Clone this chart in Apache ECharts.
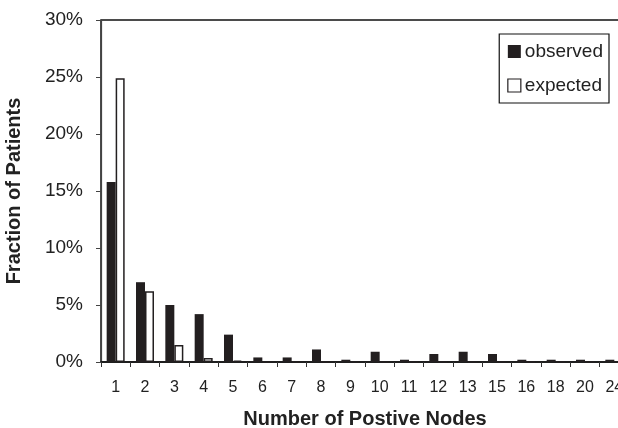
<!DOCTYPE html>
<html><head><meta charset="utf-8">
<script src="https://cdn.jsdelivr.net/npm/echarts@6/dist/echarts.min.js"></script>
<style>html,body{margin:0;padding:0;background:#fff}#c{width:618px;height:428px}</style>
</head><body><div id="c"></div>
<script>
var categories = ['1','2','3','4','5','6','7','8','9','10','11','12','13','15','16','18','20','24'];
var observed = [15.8,7.0,5.0,4.2,2.4,0.4,0.4,1.1,0.2,0.9,0.2,0.7,0.9,0.7,0.2,0.2,0.2,0.2];
var expected = [24.9,6.2,1.5,0.35,0.12,0,0,0,0,0,0,0,0,0,0,0,0,0];
var yTicks = [0,5,10,15,20,25,30];

var chart = echarts.init(document.getElementById('c'));
var font = 'Liberation Sans, Arial, sans-serif';
chart.setOption({
  animation:false,
  backgroundColor:'#fff',
  grid:{left:101,top:20,right:-11,bottom:66,outerBoundsMode:'none',containLabel:false,
        show:true,borderColor:'#111',borderWidth:1.5,backgroundColor:'transparent'},
  legend:{
    right:9, top:34, orient:'vertical', itemGap:15,
    borderColor:'#111', borderWidth:1.2, padding:[8,6,8,8],
    itemWidth:13, itemHeight:13, icon:'rect',
    textStyle:{fontFamily:font,fontSize:19,color:'#222',padding:[0,0,0,-1]},
    data:[
      {name:'observed',itemStyle:{color:'#231f20',borderWidth:0}},
      {name:'expected',itemStyle:{color:'#fff',borderColor:'#231f20',borderWidth:1.2}}
    ]
  },
  xAxis:{
    type:'category', data:categories,
    name:'Number of Postive Nodes', nameLocation:'middle', nameGap:47,
    nameTextStyle:{fontFamily:font,fontSize:20,fontWeight:'bold',color:'#222'},
    axisLine:{lineStyle:{color:'#111',width:1.5}},
    axisTick:{show:true,length:5,lineStyle:{color:'#333'}},
    axisLabel:{fontFamily:font,fontSize:16,color:'#222',margin:18}
  },
  yAxis:{
    type:'value', min:0, max:30, interval:5,
    name:'Fraction of Patients', nameLocation:'middle', nameGap:77, nameRotate:90,
    nameTextStyle:{fontFamily:font,fontSize:20,fontWeight:'bold',color:'#222'},
    splitLine:{show:false},
    axisLine:{show:true,lineStyle:{color:'#444',width:1.2}},
    axisTick:{show:true,length:5,lineStyle:{color:'#444'}},
    axisLabel:{fontFamily:font,fontSize:19,color:'#222',margin:18,
      formatter:function(v){return yTicks.indexOf(v)>=0 ? v+'%' : '';}}
  },
  series:[
    {name:'observed',type:'bar',data:observed,barWidth:9,barGap:'0%',
     itemStyle:{color:'#231f20'}},
    {name:'expected',type:'bar',data:expected,barWidth:9,
     itemStyle:{color:'#fff',borderColor:'#231f20',borderWidth:1.5}}
  ]
});
</script></body></html>
